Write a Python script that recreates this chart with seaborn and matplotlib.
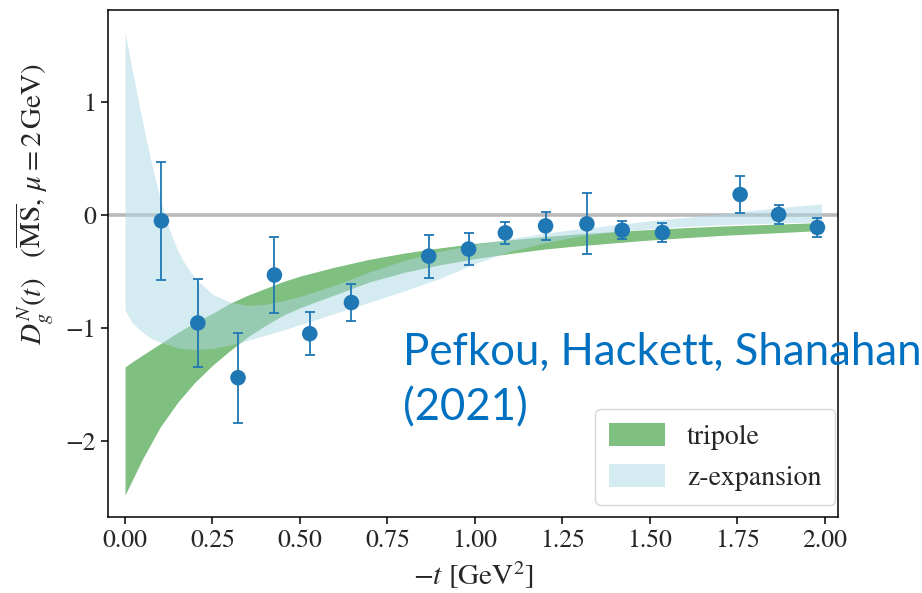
import numpy as np
import matplotlib
matplotlib.use("Agg")
import matplotlib.pyplot as plt
import seaborn as sns
from matplotlib.patches import Patch

# Lattice data points: -t [GeV^2], D_g^N(t), symmetric uncertainty
t_pts = [0.104, 0.208, 0.323, 0.427, 0.528, 0.647, 0.868, 0.982,
         1.087, 1.202, 1.320, 1.421, 1.536, 1.758, 1.868, 1.979]
d_pts = [-0.05, -0.955, -1.44, -0.53, -1.05, -0.774, -0.363, -0.30,
         -0.157, -0.095, -0.077, -0.133, -0.154, 0.183, 0.006, -0.109]
d_err = [0.525, 0.39, 0.40, 0.34, 0.19, 0.165, 0.19, 0.14,
         0.10, 0.125, 0.27, 0.08, 0.083, 0.163, 0.088, 0.081]

# Tripole fit band (upper / lower edges)
t_tri = [0.0, 0.025, 0.05, 0.075, 0.1, 0.15, 0.2, 0.25, 0.3, 0.35, 0.4, 0.45,
         0.5, 0.6, 0.7, 0.8, 0.9, 1.0, 1.1, 1.2, 1.3, 1.4, 1.5, 1.6, 1.7,
         1.8, 1.9, 1.99]
tri_hi = [-1.345, -1.29, -1.24, -1.19, -1.14, -1.04, -0.95, -0.87, -0.78,
          -0.71, -0.65, -0.59, -0.54, -0.46, -0.39, -0.335, -0.29, -0.25,
          -0.218, -0.19, -0.165, -0.145, -0.127, -0.111, -0.097, -0.086,
          -0.075, -0.066]
tri_lo = [-2.48, -2.32, -2.16, -2.02, -1.88, -1.66, -1.48, -1.33, -1.20,
          -1.08, -0.98, -0.89, -0.82, -0.705, -0.59, -0.505, -0.44, -0.385,
          -0.34, -0.30, -0.27, -0.245, -0.22, -0.20, -0.18, -0.165, -0.15,
          -0.135]

# z-expansion fit band (upper / lower edges)
t_z = [0.0, 0.02, 0.04, 0.06, 0.08, 0.1, 0.125, 0.15, 0.175, 0.2, 0.25,
       0.3, 0.35, 0.4, 0.45, 0.5, 0.6, 0.7, 0.8, 0.9, 1.0, 1.1, 1.2, 1.3,
       1.4, 1.5, 1.6, 1.7, 1.8, 1.9, 1.99]
z_hi = [1.62, 1.30, 0.98, 0.68, 0.40, 0.15, -0.11, -0.31, -0.45, -0.56,
        -0.70, -0.77, -0.80, -0.79, -0.76, -0.72, -0.62, -0.50, -0.40,
        -0.32, -0.26, -0.21, -0.16, -0.12, -0.085, -0.05, -0.02, 0.01,
        0.045, 0.075, 0.10]
z_lo = [-0.84, -0.95, -1.01, -1.06, -1.10, -1.125, -1.15, -1.175, -1.185,
        -1.19, -1.18, -1.15, -1.11, -1.065, -1.02, -0.97, -0.87, -0.77,
        -0.67, -0.56, -0.43, -0.32, -0.245, -0.185, -0.145, -0.12, -0.10,
        -0.085, -0.075, -0.065, -0.06]

legend_labels = ["tripole", "z-expansion"]
credit_lines = ["Pefkou, Hackett, Shanahan", "(2021)"]

sns.set_style("ticks")
plt.rcParams["font.family"] = ["STIXGeneral", "DejaVu Serif"]
plt.rcParams["mathtext.fontset"] = "stix"
plt.rcParams["xtick.direction"] = "out"
plt.rcParams["ytick.direction"] = "out"

fig = plt.figure(figsize=(9.22, 5.93), dpi=100)
ax = fig.add_axes([0.117, 0.128, 0.792, 0.855])

ax.axhline(0, color="gray", alpha=0.55, lw=2.6, zorder=1)
ax.fill_between(t_tri, tri_lo, tri_hi, color="green", alpha=0.5, lw=0, zorder=2)
ax.fill_between(t_z, z_lo, z_hi, color="lightblue", alpha=0.5, lw=0, zorder=3)

ax.errorbar(t_pts, d_pts, yerr=d_err, fmt="none", ecolor="#1f77b4",
            elinewidth=1.3, capsize=3.5, capthick=1.3, zorder=4)
sns.scatterplot(x=t_pts, y=d_pts, ax=ax, color="#1f77b4", s=125,
                edgecolor="none", zorder=5)

ax.set_xlim(-0.049, 2.038)
ax.set_ylim(-2.675, 1.817)
ax.set_xticks(np.arange(0, 2.01, 0.25))
ax.set_yticks([-2, -1, 0, 1])
ax.tick_params(labelsize=18.5, length=5, width=1.1, color="black")
for s in ax.spines.values():
    s.set_color("black")
    s.set_linewidth(1.1)

ax.set_xlabel(r"$-t\ [\mathrm{GeV}^2]$", fontsize=21, labelpad=5)
ax.set_ylabel(r"$D_g^N(t)\quad(\overline{\mathrm{MS}},\,\mu=2\,\mathrm{GeV})$",
              fontsize=21)
ax.yaxis.set_label_coords(-0.073, 0.617)

handles = [Patch(facecolor="green", alpha=0.5, lw=0),
           Patch(facecolor="lightblue", alpha=0.5, lw=0)]
ax.legend(handles, legend_labels, loc="lower right",
          bbox_to_anchor=(0.996, 0.024), borderaxespad=0, fontsize=20,
          handlelength=2.0, handleheight=0.9, borderpad=0.5,
          labelspacing=0.5, framealpha=0.8)

# Author credit, one text per line
for line, ybase in zip(credit_lines, [0.3845, 0.2917]):
    fig.text(0.437, ybase, line, color="#0070C0", fontsize=31.5,
             family=["Lato", "DejaVu Sans"], ha="left", va="baseline")

fig.savefig("out.png", dpi=100)
